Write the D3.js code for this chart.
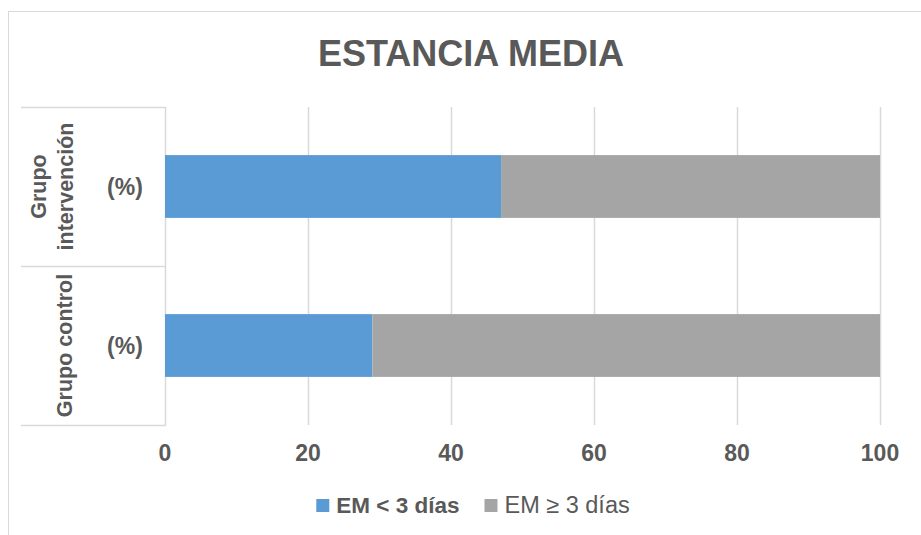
<!DOCTYPE html>
<html>
<head>
<meta charset="utf-8">
<script src="https://cdn.jsdelivr.net/npm/d3@7"></script>
<style>
  body { margin: 0; background: #fff; }
  text { font-family: "Liberation Sans", Arial, sans-serif; fill: #595959; }
</style>
</head>
<body>
<div id="chart"></div>
<script>
// data
var categories = ["Grupo intervención", "Grupo control"];
var categoryLines = [["Grupo", "intervención"], ["Grupo control"]];
var series = ["EM < 3 días", "EM ≥ 3 días"];
var below3 = [47, 29];
var atLeast3 = [53, 71];
var tickValues = [0, 20, 40, 60, 80, 100];

var width = 921,
    height = 535;

var colors = ["#5B9BD5", "#A5A5A5"];
var gridColor = "#D9D9D9";

var svg = d3.select("#chart")
    .append("svg")
    .attr("width", width)
    .attr("height", height);

// chart border
svg.append("rect")
    .attr("x", 8.5).attr("y", 11.5)
    .attr("width", 1000).attr("height", 1000)
    .attr("fill", "none")
    .attr("stroke", gridColor);

svg.append("text")
    .attr("x", 471).attr("y", 66)
    .attr("text-anchor", "middle")
    .style("font-size", "36px")
    .style("font-weight", "bold")
    .text("ESTANCIA MEDIA");

var x = d3.scaleLinear().domain([0, 100]).range([165, 880]);
var y = d3.scaleBand().domain(categories).range([107, 425]).padding(0);
var barH = y.bandwidth() * 0.395;

// gridlines
svg.append("g")
    .selectAll("line")
    .data(tickValues)
    .enter().append("line")
    .attr("x1", function (d) { return Math.round(x(d)) + 0.5; })
    .attr("x2", function (d) { return Math.round(x(d)) + 0.5; })
    .attr("y1", 107).attr("y2", 425)
    .attr("stroke", gridColor)
    .attr("stroke-width", 1.5);

// tick labels
svg.append("g")
    .selectAll("text")
    .data(tickValues)
    .enter().append("text")
    .attr("x", function (d) { return x(d); })
    .attr("y", 461)
    .attr("text-anchor", "middle")
    .style("font-size", "23px")
    .style("font-weight", "bold")
    .text(function (d) { return d; });

// category separators
var seps = [107].concat(categories.map(function (c) { return y(c) + y.bandwidth(); }));
svg.append("g")
    .selectAll("line")
    .data(seps)
    .enter().append("line")
    .attr("x1", 21).attr("x2", 166)
    .attr("y1", function (d) { return Math.round(d) + 0.5; })
    .attr("y2", function (d) { return Math.round(d) + 0.5; })
    .attr("stroke", gridColor)
    .attr("stroke-width", 1.5);

// stacked bars
var rows = categories.map(function (c, i) {
    return { cat: c, parts: [[0, below3[i]], [below3[i], below3[i] + atLeast3[i]]] };
});

var g = svg.append("g")
    .selectAll("g")
    .data(rows)
    .enter().append("g");

g.selectAll("rect")
    .data(function (d) { return d.parts.map(function (p, k) { return { cat: d.cat, p: p, k: k }; }); })
    .enter().append("rect")
    .attr("x", function (d) { return x(d.p[0]); })
    .attr("width", function (d) { return x(d.p[1]) - x(d.p[0]); })
    .attr("y", function (d) { return y(d.cat) + (y.bandwidth() - barH) / 2; })
    .attr("height", barH)
    .attr("fill", function (d) { return colors[d.k]; });

// category labels
categories.forEach(function (c, i) {
    var cy = y(c) + y.bandwidth() / 2;
    var lines = categoryLines[i];
    var xs = lines.length === 2 ? [38, 65] : [64];
    lines.forEach(function (t, j) {
        svg.append("text")
            .attr("transform", "translate(" + xs[j] + "," + cy + ") rotate(-90)")
            .attr("text-anchor", "middle")
            .attr("dy", "0.35em")
            .style("font-size", "21.5px")
            .style("font-weight", "bold")
            .text(t);
    });
    svg.append("text")
        .attr("x", 125).attr("y", cy)
        .attr("dy", "0.35em")
        .attr("text-anchor", "middle")
        .style("font-size", "23px")
        .style("font-weight", "bold")
        .text("(%)");
});

// legend
var legend = svg.append("g");
var lx = 0;
series.forEach(function (s, i) {
    legend.append("rect")
        .attr("x", lx).attr("y", 499)
        .attr("width", 13).attr("height", 13)
        .attr("fill", colors[i]);
    var t = legend.append("text")
        .attr("x", lx + 20).attr("y", 513)
        .style("font-size", i === 0 ? "22.5px" : "23.5px")
        .style("font-weight", i === 0 ? "bold" : "normal")
        .text(s);
    lx += 20 + t.node().getComputedTextLength() + 25;
});
var lw = lx - 25;
legend.attr("transform", "translate(" + (473 - lw / 2) + ",0)");
</script>
</body>
</html>
